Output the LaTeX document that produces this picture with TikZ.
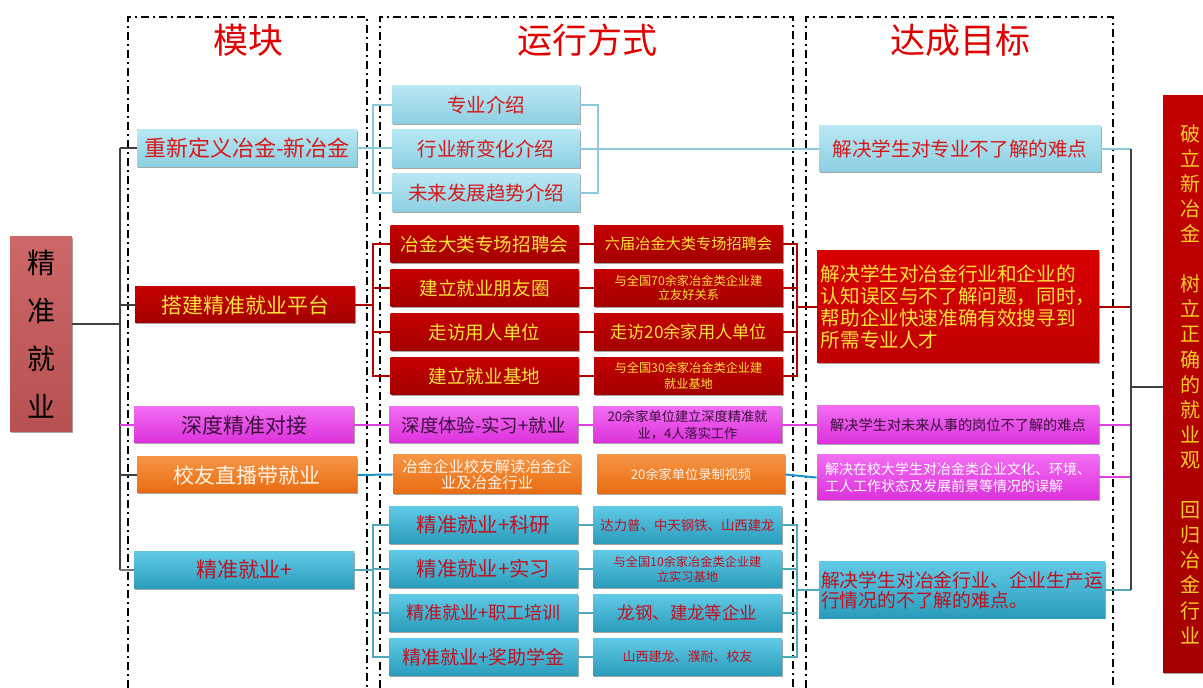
\documentclass[tikz,border=0pt]{standalone}
\usepackage{fontspec}
\setmainfont{Noto Sans CJK SC}
\usetikzlibrary{shadows}
\definecolor{hdrRed}{HTML}{E00000}
\definecolor{lbT}{HTML}{B8E8F4}
\definecolor{lbB}{HTML}{8CCFE2}
\definecolor{lbText}{HTML}{D81818}
\definecolor{rdT}{HTML}{C40000}
\definecolor{rdB}{HTML}{A40000}
\definecolor{ylw}{HTML}{FFE23A}
\definecolor{ylwR}{HTML}{F8CC28}
\definecolor{mgT}{HTML}{F26CF2}
\definecolor{mgB}{HTML}{DC30DC}
\definecolor{mgText}{HTML}{3A103A}
\definecolor{orT}{HTML}{F69444}
\definecolor{orB}{HTML}{E86C10}
\definecolor{orText}{HTML}{FFF4E8}
\definecolor{buT}{HTML}{60CAE6}
\definecolor{buB}{HTML}{2A9CBC}
\definecolor{buText}{HTML}{C01020}
\definecolor{trunkC}{HTML}{404040}
\definecolor{lbLine}{HTML}{8CC8D8}
\definecolor{rdLine}{HTML}{B00000}
\definecolor{mgLine}{HTML}{E040E0}
\definecolor{blLine}{HTML}{2090D0}
\definecolor{tlLine}{HTML}{50A8B8}
\definecolor{callT}{HTML}{CC6868}
\definecolor{callB}{HTML}{B85050}
\begin{document}
\begin{tikzpicture}[x=0.5pt,y=-0.5pt,
  box/.style={inner sep=1pt, align=center,
    drop shadow={shadow xshift=0.7pt,shadow yshift=-0.7pt,opacity=0.35,fill=black}},
  lbbox/.style={box, top color=lbT, bottom color=lbB, text=lbText},
  rdbox/.style={box, top color=rdT, bottom color=rdB, text=ylw},
  mgbox/.style={box, top color=mgT, bottom color=mgB, text=mgText},
  orbox/.style={box, top color=orT, bottom color=orB, text=orText},
  bubox/.style={box, top color=buT, bottom color=buB, text=buText},
  colA/.style={minimum width=110pt, minimum height=18pt},
  colB/.style={minimum width=94pt, minimum height=18.5pt},
  colC/.style={minimum width=94.5pt, minimum height=18.5pt},
  goalbox/.style={minimum width=141pt},
  hdr/.style={text=hdrRed, font=\fontsize{17.5}{20}\selectfont},
  frame/.style={line width=1pt, dash pattern=on 4pt off 2pt on 1pt off 2pt, color=black},
  conn/.style={line width=1pt},
  fs/.style={font=\fontsize{#1}{#1}\selectfont},
]
\useasboundingbox (0,0) rectangle (1203,688);

% frames
\draw[frame] (128,688) -- (128,17) -- (367,17) -- (367,688);
\draw[frame] (380,688) -- (380,17) -- (793,17) -- (793,688);
\draw[frame] (806,688) -- (806,17) -- (1113,17) -- (1113,688);

% headers
\node[hdr] (h1) at (248,40) {模块};
\node[hdr] (h2) at (587,40) {运行方式};
\node[hdr] (h3) at (960,40) {达成目标};

% left calligraphy box
\node[box, top color=callT, bottom color=callB, text=black,
  minimum width=31pt, minimum height=97.5pt,
  font=\fontsize{14}{24}\selectfont] (L) at (41,334.5) {精\\准\\就\\业};

% column 1
\node[lbbox, colA, minimum height=18.5pt, fs=11] (m1) at (247,148) {重新定义冶金-新冶金};
\node[rdbox, colA, fs=10.5] (m2) at (245,305) {搭建精准就业平台};
\node[mgbox, colA, fs=10.5] (m3) at (244,425) {深度精准对接};
\node[orbox, colA, fs=10.5] (m4) at (247,475) {校友直播带就业};
\node[bubox, colA, minimum height=18.5pt, fs=10.5] (m5) at (244,570) {精准就业+};

% column 2, group 1
\node[lbbox, colB, minimum height=19pt, fs=9.75] (a1) at (486,105) {专业介绍};
\node[lbbox, colB, minimum height=19pt, fs=9.75] (a2) at (486,149) {行业新变化介绍};
\node[lbbox, colB, minimum height=19pt, fs=9.75] (a3) at (486,193) {未来发展趋势介绍};

% column 2, group 2
\node[rdbox, colB, fs=9.3] (b1) at (484.5,244) {冶金大类专场招聘会};
\node[rdbox, colB, fs=9.3] (b2) at (484.5,288) {建立就业朋友圈};
\node[rdbox, colB, fs=9.3] (b3) at (484.5,332) {走访用人单位};
\node[rdbox, colB, fs=9.3] (b4) at (484.5,376) {建立就业基地};
\node[rdbox, colC, fs=7.6] (c1) at (688.5,244) {六届冶金大类专场招聘会};
\node[rdbox, colC, font=\fontsize{6.1}{7.2}\selectfont] (c2) at (688.5,288) {与全国70余家冶金类企业建\\立友好关系};
\node[rdbox, colC, fs=8.6] (c3) at (688.5,332) {走访20余家用人单位};
\node[rdbox, colC, font=\fontsize{6.1}{8.2}\selectfont] (c4) at (688.5,376) {与全国30余家冶金类企业建\\就业基地};

% magenta row
\node[mgbox, colC, minimum height=18pt, fs=9.2] (d1) at (483.5,425) {深度体验-实习+就业};
\node[mgbox, colC, minimum height=18pt, font=\fontsize{6.6}{8.4}\selectfont] (d2) at (687.5,425) {20余家单位建立深度精准就\\业，4人落实工作};

% orange row
\node[orbox, colB, minimum height=19.5pt, font=\fontsize{7.7}{8.2}\selectfont] (e1) at (487,474.5) {冶金企业校友解读冶金企\\业及冶金行业};
\node[orbox, colB, minimum height=19.5pt, fs=6.6] (e2) at (691,474.5) {20余家单位录制视频};

% blue group
\node[bubox, colC, fs=10.2] (f1) at (483.5,525) {精准就业+科研};
\node[bubox, colC, fs=10.2] (f2) at (483.5,569) {精准就业+实习};
\node[bubox, colC, fs=9] (f3) at (483.5,613) {精准就业+职工培训};
\node[bubox, colC, fs=9.5] (f4) at (483.5,657) {精准就业+奖助学金};
\node[bubox, colC, fs=6.7] (g1) at (687.5,525) {达力普、中天钢铁、山西建龙};
\node[bubox, colC, font=\fontsize{6.1}{7.5}\selectfont] (g2) at (687.5,569) {与全国10余家冶金类企业建\\立实习基地};
\node[bubox, colC, fs=8.7] (g3) at (687.5,613) {龙钢、建龙等企业};
\node[bubox, colC, fs=6.5] (g4) at (687.5,657) {山西建龙、濮耐、校友};

% goals
\node[lbbox, goalbox, minimum height=23pt, fs=9.8] (t1) at (960,149) {解决学生对专业不了解的难点};
\node[box, goalbox, top color=red!85!black, bottom color=red!75!black, text=ylw,
  minimum height=56pt, align=left, font=\fontsize{9.8}{10.85}\selectfont] (t2) at (958,307)
  {解决学生对冶金行业和企业的\\认知误区与不了解问题，同时，\\帮助企业快速准确有效搜寻到\\所需专业人才};
\node[mgbox, goalbox, minimum height=19pt, fs=7.1] (t3) at (958,425) {解决学生对未来从事的岗位不了解的难点};
\node[mgbox, goalbox, minimum height=22.5pt, text=white, align=left, font=\fontsize{7}{8.3}\selectfont] (t4) at (958,477.5)
  {解决在校大学生对冶金类企业文化、环境、\\工人工作状态及发展前景等情况的误解};
\node[bubox, goalbox, minimum width=141.5pt, minimum height=28pt, align=left, font=\fontsize{9.4}{10}\selectfont] (t5) at (962,590)
  {解决学生对冶金行业、企业生产运\\行情况的不了解的难点。};

% right box
\node[rdbox, text=ylwR, minimum width=27pt, minimum height=288.5pt, font=\fontsize{10}{12.55}\selectfont] (R) at (1190,384)
  {破\\立\\新\\冶\\金\\[12.55pt]树\\立\\正\\确\\的\\就\\业\\观\\[12.55pt]回\\归\\冶\\金\\行\\业};

% coordinates
\coordinate (tk1) at (120,148);
\coordinate (tk2) at (120,570);
\coordinate (bxA) at (373,0);
\coordinate (rxA) at (598,0);
\coordinate (rxB) at (797,0);
\coordinate (trR) at (1131,0);
\coordinate (rt1) at (1131,149);
\coordinate (rt2) at (1131,590);
\coordinate (rj) at (1131,387);
\coordinate (lj) at ([yshift=5.25pt]L.east);

% left trunk
\draw[conn, trunkC] (tk1) -- (tk2);
\draw[conn, trunkC] (lj) -- (lj -| tk1);
\draw[conn, trunkC] (tk1) -- (m1.west);
\draw[conn, trunkC] (m2.west -| tk1) -- (m2.west);
\draw[conn, mgLine] (m3.west -| tk1) -- (m3.west);
\draw[conn, trunkC] (m4.west -| tk1) -- (m4.west);
\draw[conn, trunkC!70] (tk2) -- (m5.west);

% group 1
\draw[conn, lbLine] (m1.east) -- (m1.east -| a2.west);
\draw[conn, lbLine] (a1.west) -- (a1.west -| bxA) -- (a3.west -| bxA) -- (a3.west);
\draw[conn, lbLine] (a1.east) -- (a1.east -| rxA) -- (a3.east -| rxA) -- (a3.east);
\draw[conn, lbLine] (a2.east) -- (t1.west);
\draw[conn, lbLine] (t1.east) -- (rt1);

% group 2
\draw[conn, rdLine] (m2.east) -- (m2.east -| bxA);
\draw[conn, rdLine] (b1.west) -- (b1.west -| bxA) -- (b4.west -| bxA) -- (b4.west);
\draw[conn, rdLine] (b2.west) -- (b2.west -| bxA);
\draw[conn, rdLine] (b3.west) -- (b3.west -| bxA);
\draw[conn, rdLine] (b1.east) -- (c1.west);
\draw[conn, rdLine] (b2.east) -- (c2.west);
\draw[conn, rdLine] (b3.east) -- (c3.west);
\draw[conn, rdLine] (b4.east) -- (c4.west);
\draw[conn, rdLine] (c1.east) -- (c1.east -| rxB) -- (c4.east -| rxB) -- (c4.east);
\draw[conn, rdLine] (c2.east) -- (c2.east -| rxB);
\draw[conn, rdLine] (c3.east) -- (c3.east -| rxB);
\draw[conn, rdLine] (t2.west -| rxB) -- (t2.west);
\draw[conn, rdLine] (t2.east) -- (t2.east -| trR);

% magenta row
\draw[conn, mgLine] (m3.east) -- (d1.west);
\draw[conn, mgLine] (d1.east) -- (d2.west);
\draw[conn, mgLine] (d2.east) -- (t3.west);
\draw[conn, mgLine] (t3.east) -- (t3.east -| trR);

% orange row
\draw[conn, blLine] (m4.east) -- (e1.west);
\draw[conn, blLine] (e2.east) -- (t4.west);
\draw[conn, mgLine] (t4.east) -- (t4.east -| trR);

% blue group
\draw[conn, tlLine] (m5.east) -- (m5.east -| bxA);
\draw[conn, tlLine] (f1.west) -- (f1.west -| bxA) -- (f4.west -| bxA) -- (f4.west);
\draw[conn, tlLine] (f2.west) -- (f2.west -| bxA);
\draw[conn, tlLine] (f3.west) -- (f3.west -| bxA);
\draw[conn, tlLine] (f1.east) -- (g1.west);
\draw[conn, tlLine] (f2.east) -- (g2.west);
\draw[conn, tlLine] (f3.east) -- (g3.west);
\draw[conn, tlLine] (f4.east) -- (g4.west);
\draw[conn, tlLine] (g1.east) -- (g1.east -| rxB) -- (g4.east -| rxB) -- (g4.east);
\draw[conn, tlLine] (g2.east) -- (g2.east -| rxB);
\draw[conn, tlLine] (g3.east) -- (g3.east -| rxB);
\draw[conn, tlLine] (t5.west -| rxB) -- (t5.west);
\draw[conn, tlLine] (t5.east) -- (rt2);

% right trunk
\draw[conn, trunkC] (rt1) -- (rt2);
\draw[conn, trunkC] (rj) -- (rj -| R.west);
\end{tikzpicture}
\end{document}
